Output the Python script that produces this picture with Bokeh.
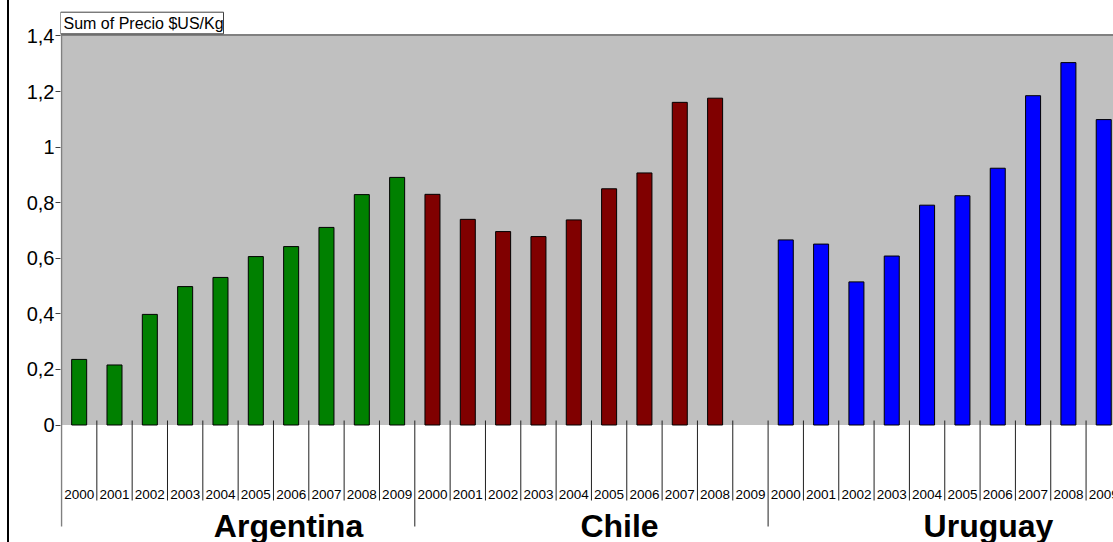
import math
from bokeh.plotting import figure
from bokeh.models import Range1d, FixedTicker, CustomJSTickFormatter, ColumnDataSource
from bokeh.core.properties import value
from bokeh.embed import file_html
from bokeh.resources import INLINE

# ---------------- data ----------------
years = ["2000", "2001", "2002", "2003", "2004", "2005", "2006", "2007", "2008", "2009"]
countries = ["Argentina", "Chile", "Uruguay"]
argentina = [0.236, 0.216, 0.398, 0.498, 0.531, 0.606, 0.642, 0.711, 0.829, 0.891]
chile = [0.830, 0.740, 0.696, 0.678, 0.738, 0.850, 0.907, 1.161, 1.176, float("nan")]
uruguay = [0.666, 0.651, 0.515, 0.608, 0.791, 0.825, 0.924, 1.185, 1.304, 1.099]
series = [argentina, chile, uruguay]
colors = ["#008000", "#800000", "#0000FF"]
y_ticks = [0, 0.2, 0.4, 0.6, 0.8, 1.0, 1.2, 1.4]
title_text = "Sum of Precio $US/Kg"

# ---------------- layout (pixels) ----------------
W, H = 1113, 542
CAT_PX = 35.33
UNIT_PX = 277.9
AX_LEFT = 61.0
ZERO_Y = 424.5
FRAME_LEFT = 60
FONT = "Liberation Sans"
country_label_px = [288, 619, 988]


def xd(px):
    return (px - AX_LEFT) / CAT_PX


def yd(py):
    return (ZERO_Y - py) / UNIT_PX


n_years = len(years)
n_cats = n_years * len(countries)
y_top = y_ticks[-1]

p = figure(width=W, height=H, output_backend="svg", toolbar_location=None,
           x_range=Range1d(xd(FRAME_LEFT), xd(W)),
           y_range=Range1d(yd(H), yd(0)),
           min_border_left=FRAME_LEFT, min_border_right=0,
           min_border_top=0, min_border_bottom=0,
           styles={"background": "linear-gradient(to right, #ffffff 7px, #000000 7px, "
                                 "#000000 9px, #ffffff 9px)"})
p.outline_line_color = None
p.grid.visible = False
p.xaxis.visible = False
p.background_fill_color = "white"
p.border_fill_color = None

# gray plot area
p.quad(left=0, right=n_cats, bottom=0, top=y_top, fill_color="#C0C0C0", line_color=None)
p.segment(x0=[xd(FRAME_LEFT)], x1=[n_cats], y0=[yd(34.5)], y1=[yd(34.5)],
          line_color="#808080", line_width=2)

# bars
xs, tops, fills = [], [], []
for g, vals in enumerate(series):
    for i, v in enumerate(vals):
        if v is None or (isinstance(v, float) and math.isnan(v)):
            continue
        xs.append(g * n_years + i + 0.5)
        tops.append(v)
        fills.append(colors[g])
src = ColumnDataSource(dict(x=xs, top=tops, color=fills))
p.vbar(x="x", top="top", bottom=0, width=0.425, fill_color="color",
       line_color="#000000", line_width=1, source=src)

# y axis line (also first group divider)
p.segment(x0=[0], x1=[0], y0=[yd(526)], y1=[y_top], line_color="#808080", line_width=1.5)

# year dividers and group dividers
yx0 = [i for i in range(1, n_cats) if i % n_years != 0]
p.segment(x0=yx0, x1=yx0, y0=[yd(420)] * len(yx0), y1=[yd(500)] * len(yx0),
          line_color="#202020", line_width=1)
gx = [g * n_years for g in range(1, len(countries) + 1)]
p.segment(x0=gx, x1=gx, y0=[yd(420)] * len(gx), y1=[yd(526)] * len(gx),
          line_color="#202020", line_width=1)

# year labels
lab_x = [i + 0.5 for i in range(n_cats)]
lab_t = years * len(countries)
p.text(x=lab_x, y=[yd(494)] * n_cats, text=lab_t, text_align="center",
       text_baseline="middle", text_font=value(FONT), text_font_size="13.5px",
       text_color="#000000")

# country labels
p.text(x=[xd(v) for v in country_label_px], y=[yd(525)] * len(countries), text=countries,
       text_align="center", text_baseline="middle", text_font=value(FONT),
       text_font_size="32px", text_font_style="bold", text_color="#000000")

# field title box
p.quad(left=[xd(60)], right=[xd(223)], bottom=[yd(33.3)], top=[yd(11.7)],
       fill_color="white", line_color="#404040", line_width=1)
p.text(x=[xd(63)], y=[yd(22.5)], text=[title_text], text_align="left",
       text_baseline="middle", text_font=value(FONT), text_font_size="16px",
       text_color="#000000")

# y axis
ax = p.yaxis[0]
ax.ticker = FixedTicker(ticks=y_ticks)
ax.formatter = CustomJSTickFormatter(
    code="return (Math.round(tick*10)/10).toString().replace('.', ',');")
ax.axis_line_color = None
ax.major_tick_out = 5
ax.major_tick_in = 0
ax.minor_tick_line_color = None
ax.major_tick_line_color = "#404040"
ax.major_label_standoff = 1
ax.major_label_text_font = FONT
ax.major_label_text_font_size = "20px"
ax.major_label_text_color = "#000000"

open("out.html", "w").write(file_html(p, INLINE))
